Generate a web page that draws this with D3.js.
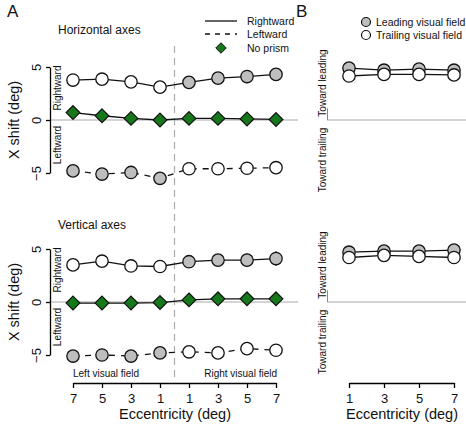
<!DOCTYPE html>
<html>
<head>
<meta charset="utf-8">
<script src="https://cdn.jsdelivr.net/npm/d3@7"></script>
<style>
  body { margin: 0; background: #fff; }
  svg { font-family: "Liberation Sans", Arial, sans-serif; }
</style>
</head>
<body>
<div class="render"></div>
<script>
// eccentricity labels, left visual field then right visual field
var eccLabelsA = ["7", "5", "3", "1", "1", "3", "5", "7"];
var eccB = [1, 3, 5, 7];

// panel A, horizontal axes (deg)
var horizRight = [3.77, 3.85, 3.6, 3.1, 3.55, 3.95, 4.1, 4.3];
var horizLeft = [-4.8, -5.1, -4.95, -5.5, -4.6, -4.6, -4.55, -4.5];
var horizNone = [0.7, 0.4, 0.15, 0.0, 0.15, 0.15, 0.1, 0.05];
// panel A, vertical axes (deg)
var vertRight = [3.5, 3.85, 3.4, 3.35, 3.8, 3.95, 3.95, 4.1];
var vertLeft = [-5.1, -5.0, -5.1, -4.8, -4.7, -4.8, -4.4, -4.55];
var vertNone = [-0.1, -0.1, -0.1, -0.05, 0.2, 0.3, 0.3, 0.3];
var vertRightErr = [0.3, 0.3, 0.3, 0.3, 0.4, 0.5, 0.62, 0.68];

// panel B
var horizLead = [4.9, 4.7, 4.8, 4.7];
var horizTrail = [4.15, 4.3, 4.3, 4.25];
var vertLead = [4.7, 4.8, 4.8, 4.9];
var vertTrail = [4.2, 4.4, 4.3, 4.2];

var grayFill = "#bebebe", green = "#16781a";

var svg = d3.select(".render").append("svg")
    .attr("width", 466).attr("height", 424);

var xA = d3.scaleLinear().domain([0, 7]).range([73, 276]);
var xB = d3.scaleLinear().domain([1, 7]).range([349, 454]);
var yTop = d3.scaleLinear().domain([-5, 5]).range([173, 67]);
var yBot = d3.scaleLinear().domain([-5, 5]).range([355, 249]);

var line = function(x, y) {
    return d3.line().x(function(d, i) { return x(i); }).y(function(d) { return y(d); });
};

function leftAxis(y, xPos) {
    var g = svg.append("g").attr("transform", "translate(" + xPos + ",0)")
        .call(d3.axisLeft(y).tickValues([-5, 0, 5]).tickSize(4).tickSizeOuter(0)
            .tickFormat(function(d) { return d < 0 ? "\u22125" : d; }));
    g.select(".domain").attr("stroke-width", 1.3);
    g.selectAll(".tick line").attr("stroke-width", 1.3);
    g.selectAll(".tick text")
        .attr("font-size", 13)
        .attr("transform", "rotate(-90)")
        .attr("x", 0).attr("y", -9)
        .attr("dy", 0)
        .attr("text-anchor", "middle")
        .attr("fill", "#111");
}

function sideLabel(text, x, y, size) {
    svg.append("text").attr("transform", "translate(" + x + "," + y + ") rotate(-90)")
        .attr("text-anchor", "middle").attr("font-size", size).attr("fill", "#111").text(text);
}

function panelA(y, right, left, none, rightErr) {
    // zero line
    svg.append("line").attr("x1", 50).attr("x2", 298)
        .attr("y1", y(0)).attr("y2", y(0)).attr("stroke", "#aaa").attr("stroke-width", 1.2);
    leftAxis(y, 50);
    sideLabel("Rightward", 61, y(0) - 32, 10);
    sideLabel("Leftward", 61, y(0) + 25, 10);

    if (rightErr) {
        svg.append("g").selectAll("line").data(right).enter().append("line")
            .attr("x1", function(d, i) { return xA(i); })
            .attr("x2", function(d, i) { return xA(i); })
            .attr("y1", function(d, i) { return y(d - rightErr[i]); })
            .attr("y2", function(d, i) { return y(d + rightErr[i]); })
            .attr("stroke", "#111").attr("stroke-width", 1.2);
    }

    svg.append("path").datum(right).attr("d", line(xA, y))
        .attr("fill", "none").attr("stroke", "#111").attr("stroke-width", 1.3);
    svg.append("path").datum(left).attr("d", line(xA, y))
        .attr("fill", "none").attr("stroke", "#111").attr("stroke-width", 1.3)
        .attr("stroke-dasharray", "6,6");
    svg.append("path").datum(none).attr("d", line(xA, y))
        .attr("fill", "none").attr("stroke", "#111").attr("stroke-width", 1.3);

    // leading visual field is grey
    svg.append("g").selectAll("circle").data(right).enter().append("circle")
        .attr("cx", function(d, i) { return xA(i); }).attr("cy", function(d) { return y(d); })
        .attr("r", 6.2)
        .attr("fill", function(d, i) { return i < 4 ? "#fff" : grayFill; })
        .attr("stroke", "#111").attr("stroke-width", 1.3);
    svg.append("g").selectAll("circle").data(left).enter().append("circle")
        .attr("cx", function(d, i) { return xA(i); }).attr("cy", function(d) { return y(d); })
        .attr("r", 6.2)
        .attr("fill", function(d, i) { return i < 4 ? grayFill : "#fff"; })
        .attr("stroke", "#111").attr("stroke-width", 1.3);
    svg.append("g").selectAll("path").data(none).enter().append("path")
        .attr("d", d3.symbol().type(d3.symbolDiamond2).size(120))
        .attr("transform", function(d, i) { return "translate(" + xA(i) + "," + y(d) + ")"; })
        .attr("fill", green).attr("stroke", "#111").attr("stroke-width", 1.2);
}

function panelB(y, lead, trail) {
    svg.append("line").attr("x1", 327).attr("x2", 466)
        .attr("y1", y(0)).attr("y2", y(0)).attr("stroke", "#aaa").attr("stroke-width", 1.2);
    svg.append("line").attr("x1", 327.5).attr("x2", 327.5)
        .attr("y1", y(0)).attr("y2", y(1.1)).attr("stroke", "#888").attr("stroke-width", 1);
    sideLabel("Toward leading", 326, y(0) - 37, 10);
    sideLabel("Toward trailing", 326, y(0) + 40, 10);

    [[lead, grayFill], [trail, "#fff"]].forEach(function(s) {
        svg.append("path").datum(s[0]).attr("d", line(function(i) { return xB(eccB[i]); }, y))
            .attr("fill", "none").attr("stroke", "#111").attr("stroke-width", 1.3);
        svg.append("g").selectAll("circle").data(s[0]).enter().append("circle")
            .attr("cx", function(d, i) { return xB(eccB[i]); }).attr("cy", function(d) { return y(d); })
            .attr("r", 6.2).attr("fill", s[1]).attr("stroke", "#111").attr("stroke-width", 1.3);
    });
}

// divider between visual fields
svg.append("line").attr("x1", 174.5).attr("x2", 174.5).attr("y1", 46).attr("y2", 382)
    .attr("stroke", "#aaa").attr("stroke-width", 1.2).attr("stroke-dasharray", "7,5");

panelA(yTop, horizRight, horizLeft, horizNone, null);
panelA(yBot, vertRight, vertLeft, vertNone, vertRightErr);
panelB(yTop, horizLead, horizTrail);
panelB(yBot, vertLead, vertTrail);

// x axes
function bottomAxis(x, vals, fmt) {
    var g = svg.append("g").attr("transform", "translate(0,383)")
        .call(d3.axisBottom(x).tickValues(vals).tickSize(5).tickSizeOuter(0).tickFormat(fmt));
    g.select(".domain").attr("stroke-width", 1.3);
    g.selectAll(".tick line").attr("stroke-width", 1.3);
    g.selectAll(".tick text").attr("font-size", 13).attr("fill", "#111").attr("dy", "0.95em");
}
bottomAxis(xA, d3.range(8), function(d) { return eccLabelsA[d]; });
bottomAxis(xB, eccB, function(d) { return d; });

svg.append("text").attr("x", 175).attr("y", 419).attr("text-anchor", "middle")
    .attr("font-size", 14.5).attr("fill", "#111").text("Eccentricity (deg)");
svg.append("text").attr("x", 402).attr("y", 419).attr("text-anchor", "middle")
    .attr("font-size", 14.5).attr("fill", "#111").text("Eccentricity (deg)");

sideLabel("X shift (deg)", 19, 120, 14.5);
sideLabel("X shift (deg)", 19, 302, 14.5);

svg.append("text").attr("x", 73).attr("y", 377).attr("font-size", 10).attr("fill", "#111")
    .text("Left visual field");
svg.append("text").attr("x", 277).attr("y", 377).attr("text-anchor", "end").attr("font-size", 10)
    .attr("fill", "#111").text("Right visual field");

svg.append("text").attr("x", 58).attr("y", 34).attr("font-size", 12).attr("fill", "#111")
    .text("Horizontal axes");
svg.append("text").attr("x", 58).attr("y", 229).attr("font-size", 12).attr("fill", "#111")
    .text("Vertical axes");

svg.append("text").attr("x", 7).attr("y", 17).attr("font-size", 17).attr("fill", "#111").text("A");
svg.append("text").attr("x", 296).attr("y", 17).attr("font-size", 17).attr("fill", "#111").text("B");

// legend A
var legA = svg.append("g").attr("font-size", 10.5).attr("fill", "#111");
legA.append("line").attr("x1", 205).attr("x2", 237).attr("y1", 21).attr("y2", 21)
    .attr("stroke", "#111").attr("stroke-width", 1.3);
legA.append("line").attr("x1", 205).attr("x2", 237).attr("y1", 34).attr("y2", 34)
    .attr("stroke", "#111").attr("stroke-width", 1.3).attr("stroke-dasharray", "5,5");
legA.append("path").attr("d", d3.symbol().type(d3.symbolDiamond2).size(70))
    .attr("transform", "translate(221,48)").attr("fill", green).attr("stroke", "#111");
legA.append("text").attr("x", 247).attr("y", 25).text("Rightward");
legA.append("text").attr("x", 247).attr("y", 38).text("Leftward");
legA.append("text").attr("x", 247).attr("y", 52).text("No prism");

// legend B
var legB = svg.append("g").attr("font-size", 10.5).attr("fill", "#111");
legB.append("circle").attr("cx", 366).attr("cy", 22).attr("r", 4.5)
    .attr("fill", grayFill).attr("stroke", "#111").attr("stroke-width", 1.2);
legB.append("circle").attr("cx", 366).attr("cy", 35).attr("r", 4.5)
    .attr("fill", "#fff").attr("stroke", "#111").attr("stroke-width", 1.2);
legB.append("text").attr("x", 376).attr("y", 26).text("Leading visual field");
legB.append("text").attr("x", 376).attr("y", 39).text("Trailing visual field");
</script>
</body>
</html>
